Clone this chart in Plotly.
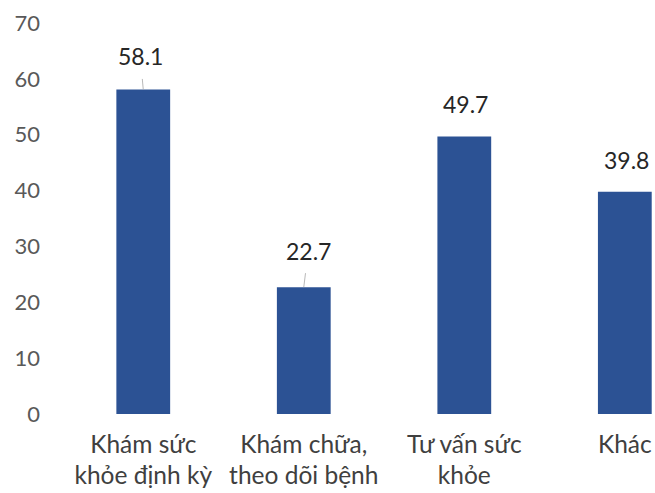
import plotly.graph_objects as go

categories = ["Khám sức<br>khỏe định kỳ", "Khám chữa,<br>theo dõi bệnh", "Tư vấn sức<br>khỏe", "Khác"]
values = [58.1, 22.7, 49.7, 39.8]
y_ticks = [0, 10, 20, 30, 40, 50, 60, 70]

FONT = "Lato, 'Open Sans', sans-serif"
BAR = "#2C5294"

fig = go.Figure()
fig.add_trace(go.Bar(
    x=list(range(len(categories))), y=values,
    width=0.335, marker=dict(color=BAR, line=dict(width=0)),
    hoverinfo="skip",
))

# data labels: first two have leader lines
label_cfg = [
    dict(arrow=True, ax=-3, ay=-33),
    dict(arrow=True, ax=4.5, ay=-36.5),
    dict(arrow=False),
    dict(arrow=False),
]
for i, (v, cfg) in enumerate(zip(values, label_cfg)):
    if cfg["arrow"]:
        fig.add_annotation(
            x=i, y=v, text=f"{v:.1f}", showarrow=True, arrowhead=0,
            arrowwidth=0.8, arrowcolor="#A6A6A6", ax=cfg["ax"], ay=cfg["ay"],
            startstandoff=7, standoff=0,
            font=dict(family=FONT, size=23, color="#262626"),
        )
    else:
        fig.add_annotation(
            x=i, y=v, text=f"{v:.1f}", showarrow=False, yshift=32, xshift=1.5,
            font=dict(family=FONT, size=23, color="#262626"),
        )

fig.update_layout(
    width=655, height=493,
    margin=dict(l=63, r=0, t=23, b=79),
    paper_bgcolor="white", plot_bgcolor="white",
    showlegend=False,
    font=dict(family=FONT, size=22, color="#595959"),
    xaxis=dict(
        range=[-0.5, 3.188], tickmode="array",
        tickvals=list(range(len(categories))), ticktext=categories,
        showgrid=False, zeroline=False, showline=False, ticks="",
        ticklabelstandoff=13, automargin=False,
        tickfont=dict(family=FONT, size=24.5, color="#404040"),
    ),
    yaxis=dict(
        range=[0, 70], tickmode="array", tickvals=y_ticks,
        showgrid=False, zeroline=False, showline=False, ticks="",
        ticklabelstandoff=22, automargin=False,
        tickfont=dict(family=FONT, size=22, color="#595959"),
    ),
)

fig.write_html(
    "out.html",
    config={"displayModeBar": False, "staticPlot": True},
    post_script="document.body.style.margin='0px';document.body.style.overflow='hidden';",
)
